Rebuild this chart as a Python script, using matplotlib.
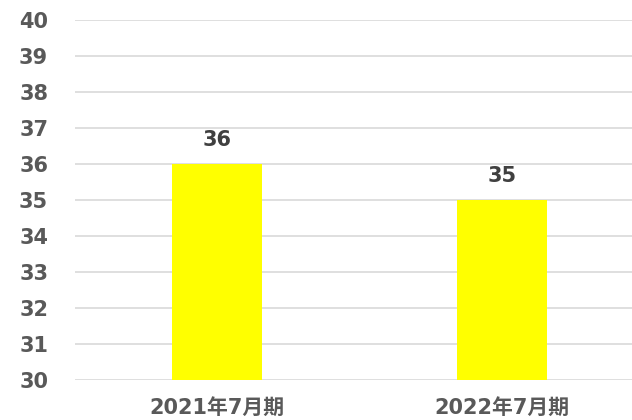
import matplotlib.pyplot as plt

plt.rcParams['font.family'] = ['DejaVu Sans', 'Noto Sans CJK JP']

periods = ['2021年7月期', '2022年7月期']
values = [36, 35]
yticks = list(range(30, 41))

grey = '#595959'

fig = plt.figure(figsize=(6.32, 4.2), dpi=100)
ax = fig.add_axes([74.5 / 632, 40 / 420, 570 / 632, 360 / 420])

x = range(len(periods))
bars = ax.bar(x, values, width=0.316, color='#FFFF00', zorder=2)

for b, v in zip(bars, values):
    ax.annotate(str(v), (b.get_x() + b.get_width() / 2, v), xytext=(0, 10),
                textcoords='offset points', ha='center', va='bottom',
                fontsize=15, fontweight='bold', color='#404040')

ax.set_xlim(-0.5, 1.5)
ax.set_ylim(30, 40)
ax.set_yticks(yticks)
ax.set_xticks(list(x))
ax.set_xticklabels(periods)

ax.grid(axis='y', color='#d9d9d9', linewidth=1.2, zorder=0)
for s in ax.spines.values():
    s.set_visible(False)
ax.tick_params(axis='y', length=0, pad=19, labelsize=15, labelcolor=grey)
ax.tick_params(axis='x', length=0, pad=13, labelsize=15, labelcolor=grey)
for lab in ax.get_xticklabels() + ax.get_yticklabels():
    lab.set_fontweight('bold')

fig.savefig('out.png', dpi=100)
